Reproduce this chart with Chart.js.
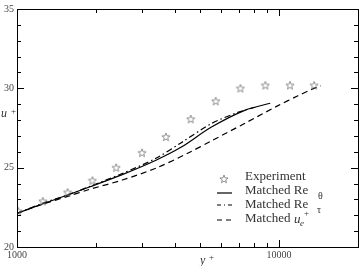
<!DOCTYPE html>
<html>
<head>
<meta charset="utf-8">
<script src="https://cdn.jsdelivr.net/npm/chart.js@4"></script>
<style>
  html, body { margin: 0; padding: 0; background: #fff; }
  #wrap { width: 364px; height: 266px; }
</style>
</head>
<body>
<div id="wrap"><canvas id="chart" width="364" height="266"></canvas></div>
<script>
// Experiment (stars)
const expX = [1010, 1255, 1560, 1940, 2390, 3000, 3700, 4600, 5730, 7120, 8860, 11000, 13600];
const expU = [22.25, 22.88, 23.44, 24.19, 25.0, 25.94, 26.94, 28.06, 29.19, 30.0, 30.19, 30.19, 30.19];

// Matched Re_theta (solid)
const thetaX = [1000, 1250, 1560, 1890, 2520, 3390, 4220, 5520, 7430, 9250];
const thetaU = [22.12, 22.71, 23.28, 23.78, 24.56, 25.47, 26.28, 27.56, 28.63, 29.06];

// Matched Re_tau (dash-dot)
const tauX = [1000, 1250, 1560, 1890, 2520, 3390, 4220, 5520, 7000, 8110];
const tauU = [22.12, 22.75, 23.28, 23.81, 24.63, 25.59, 26.56, 27.78, 28.5, 28.81];

// Matched u_e+ (dashed)
const ueX = [1000, 1250, 1560, 1890, 2520, 3390, 4520, 5520, 7430, 9910, 11800, 13210, 14420];
const ueU = [22.12, 22.69, 23.19, 23.63, 24.22, 24.97, 25.94, 26.69, 27.81, 28.91, 29.53, 29.91, 30.16];

const xTicks = [1000, 10000];
const xMinor = [2000, 3000, 4000, 5000, 6000, 7000, 8000, 9000, 20000];
const yTicks = [20, 25, 30, 35];

const pts = (xs, ys) => xs.map((x, i) => ({ x: x, y: ys[i] }));

// five-point star outline used as point style
const star = document.createElement("canvas");
star.width = 10; star.height = 10;
(function () {
  const c = star.getContext("2d");
  c.beginPath();
  for (let i = 0; i < 10; i++) {
    const r = i % 2 === 0 ? 4.3 : 1.8;
    const a = -Math.PI / 2 + i * Math.PI / 5;
    const px = 5 + r * Math.cos(a), py = 5.3 + r * Math.sin(a);
    if (i === 0) c.moveTo(px, py); else c.lineTo(px, py);
  }
  c.closePath();
  c.strokeStyle = "#777";
  c.lineWidth = 0.8;
  c.stroke();
})();

const serif = "'Liberation Serif', 'Times New Roman', Tinos, serif";

const framePlugin = {
  id: "frame",
  afterDraw(chart) {
    const { ctx, chartArea: a, scales } = chart;
    const xs = scales.x, ys = scales.y;
    ctx.save();
    ctx.strokeStyle = "#000";
    ctx.lineWidth = 1;
    ctx.strokeRect(Math.round(a.left) + 0.5, Math.round(a.top) + 0.5,
      Math.round(a.right - a.left), Math.round(a.bottom - a.top));

    ctx.beginPath();
    const tickX = (v, len) => {
      const p = Math.round(xs.getPixelForValue(v)) + 0.5;
      ctx.moveTo(p, a.bottom); ctx.lineTo(p, a.bottom - len);
      ctx.moveTo(p, a.top); ctx.lineTo(p, a.top + len);
    };
    const tickY = (v, len) => {
      const p = Math.round(ys.getPixelForValue(v)) + 0.5;
      ctx.moveTo(a.left, p); ctx.lineTo(a.left + len, p);
      ctx.moveTo(a.right, p); ctx.lineTo(a.right - len, p);
    };
    xMinor.forEach(v => tickX(v, 4));
    xTicks.forEach(v => tickX(v, 7));
    for (let v = 21; v < 35; v++) tickY(v, yTicks.includes(v) ? 7 : 4);
    ctx.stroke();

    // axis titles
    ctx.fillStyle = "#333";
    ctx.textBaseline = "alphabetic";
    ctx.font = "italic 12px " + serif;
    ctx.fillText("u", 1, 117);
    ctx.fillText("y", 200, 264);
    ctx.font = "9px " + serif;
    ctx.fillText("+", 11, 114);
    ctx.fillText("+", 209, 260);

    // legend
    const lx0 = 217, lx1 = 232, tx = 245;
    ctx.drawImage(star, 219, 174);
    ctx.font = "13px " + serif;
    ctx.textBaseline = "middle";
    ctx.fillText("Experiment", tx, 177);
    ctx.fillText("Matched Re", tx, 191);
    ctx.fillText("Matched Re", tx, 205);
    ctx.fillText("Matched", tx, 219);
    ctx.font = "10px " + serif;
    ctx.fillText("\u03b8", 318, 196);
    ctx.fillText("\u03c4", 317, 210);
    ctx.font = "italic 13px " + serif;
    ctx.fillText("u", 294, 220);
    ctx.font = "italic 9px " + serif;
    ctx.fillText("e", 300, 224);
    ctx.font = "9px " + serif;
    ctx.fillText("+", 304, 214);

    ctx.lineWidth = 1.2;
    const sample = (y, dash) => {
      ctx.setLineDash(dash);
      ctx.beginPath();
      ctx.moveTo(lx0, y); ctx.lineTo(lx1, y);
      ctx.stroke();
    };
    sample(193, []);
    sample(205, [4, 3, 1, 3]);
    sample(220, [5, 4]);
    ctx.restore();
  }
};

const lineSet = (label, data, dash) => ({
  label: label,
  data: data,
  showLine: true,
  borderColor: "#000",
  borderWidth: 1.2,
  borderDash: dash,
  pointRadius: 0,
  tension: 0.3,
  fill: false,
});

function draw() {
  new Chart(document.getElementById("chart"), {
    type: "scatter",
    data: {
      datasets: [
        {
          label: "Experiment",
          data: pts(expX, expU),
          pointStyle: star,
          pointRadius: 5,
          showLine: false,
        },
        lineSet("Matched Re θ", pts(thetaX, thetaU), []),
        lineSet("Matched Re τ", pts(tauX, tauU), [6, 3, 1.5, 3]),
        lineSet("Matched ue+", pts(ueX, ueU), [6, 4]),
      ],
    },
    options: {
      responsive: false,
      animation: false,
      devicePixelRatio: 1,
      layout: { padding: { top: 7, right: 3, left: 0, bottom: 0 } },
      plugins: { legend: { display: false }, tooltip: { enabled: false } },
      scales: {
        x: {
          type: "logarithmic",
          min: 1000,
          max: 20000,
          afterBuildTicks: (s) => { s.ticks = xTicks.map(v => ({ value: v })); },
          afterFit: (s) => { s.height = 19; },
          ticks: {
            autoSkip: false,
            maxRotation: 0,
            padding: 2,
            color: "#444",
            font: { family: serif, size: 10 },
            callback: (v) => String(v),
          },
          grid: { display: false, drawTicks: false },
          border: { display: false },
        },
        y: {
          min: 20,
          max: 35,
          afterBuildTicks: (s) => { s.ticks = yTicks.map(v => ({ value: v })); },
          afterFit: (s) => { s.width = 17; },
          ticks: {
            padding: 3,
            color: "#444",
            font: { family: serif, size: 10 },
          },
          grid: { display: false, drawTicks: false },
          border: { display: false },
        },
      },
    },
    plugins: [framePlugin],
  });
}

Promise.all([
  document.fonts.load("10px 'Liberation Serif'"),
  document.fonts.load("italic 12px 'Liberation Serif'"),
]).then(draw, draw);
</script>
</body>
</html>
